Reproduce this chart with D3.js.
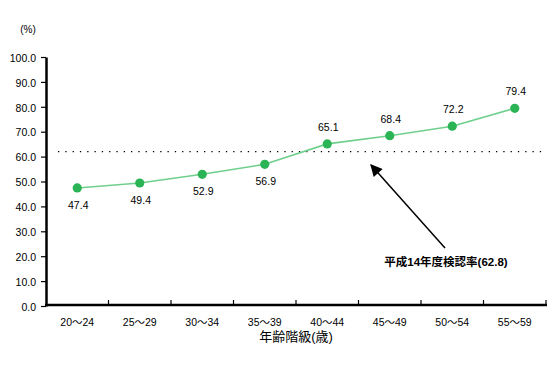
<!DOCTYPE html>
<html><head><meta charset="utf-8">
<script src="https://cdn.jsdelivr.net/npm/d3@7"></script>
<style>
body{margin:0;background:#fff;}
svg{display:block;}
text{font-family:"Liberation Sans","Noto Sans CJK JP",sans-serif;fill:#000;}
</style></head>
<body>
<svg id="c" width="560" height="369"></svg>
<script>
const categories = ["20～24","25～29","30～34","35～39","40～44","45～49","50～54","55～59"];
const values = [47.4, 49.4, 52.9, 56.9, 65.1, 68.4, 72.2, 79.4];
const yTicks = [0,10,20,30,40,50,60,70,80,90,100];
const refValue = 62.8;
const refLabel = "平成14年度検認率(62.8)";
const xTitle = "年齢階級(歳)";
const yUnit = "(%)";

const svg = d3.select("#c");
const x = d3.scaleBand().domain(categories).range([46, 546]);
const y = d3.scaleLinear().domain([0, 100]).range([306, 57]);
const cx = d => x(d) + x.bandwidth()/2;

// dotted reference line
svg.append("line")
  .attr("x1", 58).attr("x2", 546)
  .attr("y1", y(refValue)+2).attr("y2", y(refValue)+2)
  .attr("stroke", "#000").attr("stroke-width", 1.2)
  .attr("stroke-dasharray", "1.3,6");

// Y axis
const yAxis = d3.axisLeft(y).tickValues(yTicks).tickFormat(d3.format(".1f")).tickSize(5).tickSizeOuter(0);
const gy = svg.append("g").attr("transform", "translate(46,0)").call(yAxis);
gy.select(".domain").attr("stroke-width", 2.5);
gy.selectAll(".tick line").attr("stroke-width", 1.2);
gy.selectAll(".tick text").attr("x", -10).attr("dy", "0.4em")
  .style("font-size", "10.5px").style("font-family", "'Liberation Sans',sans-serif")
  .attr("transform", null);

// X axis
const gx = svg.append("g").attr("transform", "translate(0,305)");
gx.append("line").attr("x1", 45).attr("x2", 547).attr("stroke", "#000").attr("stroke-width", 2.5);
const bounds = categories.slice(1).map(c => x(c)).concat([x.range()[1]]);
gx.selectAll("line.tk").data(bounds).join("line").attr("class","tk")
  .attr("x1", d => d).attr("x2", d => d).attr("y1", 0).attr("y2", -5)
  .attr("stroke", "#000").attr("stroke-width", 1.2);
gx.selectAll("text.cat").data(categories).join("text").attr("class","cat")
  .attr("x", d => cx(d)).attr("y", 21).attr("text-anchor","middle")
  .style("font-size","10.5px").text(d => d);

svg.append("text").attr("x", 296).attr("y", 341).attr("text-anchor","middle")
  .style("font-size","13px").text(xTitle);
svg.append("text").attr("x", 28).attr("y", 33).attr("text-anchor","middle")
  .style("font-size","10px").text(yUnit);

// line
const line = d3.line().x((d,i) => cx(categories[i])).y(d => y(d));
svg.append("path").datum(values).attr("d", line)
  .attr("fill","none").attr("stroke","#6fcf8c").attr("stroke-width",1.6);
svg.selectAll("circle.pt").data(values).join("circle").attr("class","pt")
  .attr("cx", (d,i) => cx(categories[i])).attr("cy", d => y(d)).attr("r", 4.6)
  .attr("fill", "#2bb455");
svg.selectAll("text.val").data(values).join("text").attr("class","val")
  .attr("x", (d,i) => cx(categories[i])+1)
  .attr("y", (d,i) => i < 4 ? y(d) + 21 : y(d) - 13)
  .attr("text-anchor","middle").style("font-size","10.5px")
  .text(d => d.toFixed(1));

// arrow annotation
const defs = svg.append("defs");
defs.append("marker").attr("id","ah").attr("viewBox","0 0 10 10")
  .attr("refX", 9).attr("refY", 5).attr("markerWidth", 16).attr("markerHeight", 12)
  .attr("markerUnits","userSpaceOnUse").attr("orient","auto")
  .append("path").attr("d","M0,0 L10,5 L0,10 Z").attr("fill","#000");
svg.append("line").attr("x1", 445).attr("y1", 248).attr("x2", 371).attr("y2", 165)
  .attr("stroke","#000").attr("stroke-width",1.5).attr("marker-end","url(#ah)");
svg.append("text").attr("x", 446).attr("y", 266).attr("text-anchor","middle")
  .style("font-size","11.5px").style("font-weight","bold").text(refLabel);
</script>
</body></html>
